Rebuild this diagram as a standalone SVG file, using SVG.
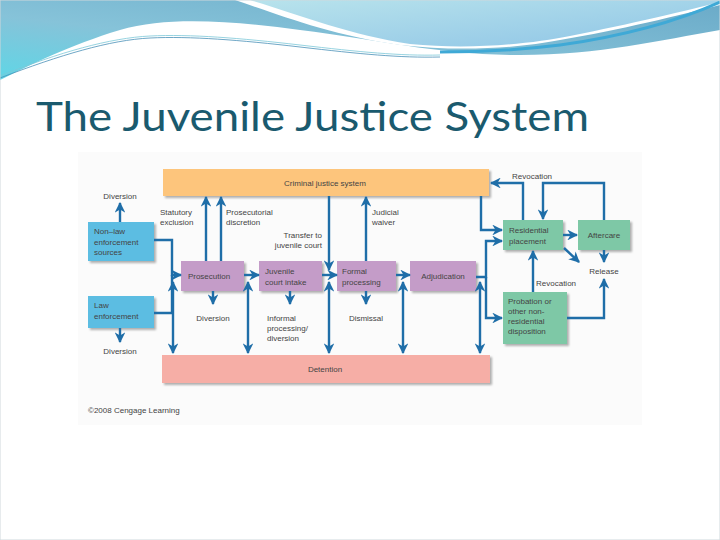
<svg xmlns="http://www.w3.org/2000/svg" width="720" height="540" viewBox="0 0 720 540">
<defs>
<linearGradient id="band" x1="0" y1="1" x2="1" y2="0">
<stop offset="0" stop-color="#5fd6e6"/>
<stop offset="0.4" stop-color="#86c3d9"/>
<stop offset="1" stop-color="#6aaac8"/>
</linearGradient>
<linearGradient id="band2" x1="0" y1="0" x2="1" y2="1">
<stop offset="0" stop-color="#b8e3ec"/>
<stop offset="1" stop-color="#8ec4e6"/>
</linearGradient>
<marker id="ah" viewBox="0 0 10 10" refX="9" refY="5" markerWidth="4.5" markerHeight="4.5" orient="auto-start-reverse">
<path d="M0,0 L10,5 L0,10 L3,5 z" fill="#1f6ea8"/>
</marker>
<filter id="sh" x="-10%" y="-10%" width="130%" height="140%">
<feDropShadow dx="2" dy="2" stdDeviation="1.2" flood-color="#000" flood-opacity="0.3"/>
</filter>
</defs>
<style>
.c{fill:none;stroke:#1f6ea8;stroke-width:2.4}
.a{marker-end:url(#ah)}
.b{marker-start:url(#ah);marker-end:url(#ah)}
.t{font-family:"Liberation Sans",Arial,sans-serif;font-size:8px;fill:#444}
.m{text-anchor:middle}
.blue{fill:#5cbde2;filter:url(#sh)}
.pur{fill:#c49cc8;filter:url(#sh)}
.grn{fill:#7ec8a6;filter:url(#sh)}
</style>
<rect width="720" height="540" fill="#ffffff"/>
<!-- header decoration -->
<path d="M0,0 H720 V30 C660,40 600,55 520,55 C440,55 380,40 300,30 C240,22 170,15 120,30 C70,45 30,65 0,80 Z" fill="url(#band)"/>
<path d="M235,0 C280,15 330,35 400,45 C460,52 520,48 560,40 C620,30 680,15 720,5 V0 Z" fill="#ffffff"/>
<path d="M250,0 C300,15 350,35 410,44 C470,50 530,44 570,36 C630,24 690,10 720,2 V0 Z" fill="url(#band2)"/>
<path d="M720,2 C680,20 630,35 560,45 C520,50 480,52 440,52" fill="none" stroke="#3fa9d6" stroke-width="3"/>
<path d="M0,78 C60,55 110,40 150,38 C190,36 240,40 300,47 C360,54 400,58 440,57" fill="none" stroke="#4a90b8" stroke-width="0.8"/>
<path d="M0,76 C60,52 110,38 150,36 C190,34 240,38 300,45 C360,52 400,56 440,55" fill="none" stroke="#7cc8d8" stroke-width="0.8"/>
<rect x="0" y="0" width="720" height="540" fill="none" stroke="#cfd8dc" stroke-width="1"/>
<text x="36" y="131" font-family="Lato,'Liberation Sans',sans-serif" font-size="40" fill="#1a5a6e" textLength="553" lengthAdjust="spacingAndGlyphs">The Juvenile Justice System</text>
<!-- diagram panel -->
<rect x="78" y="152" width="564" height="273" fill="#fbfbfb"/>
<g id="cjs"><rect x="163" y="169" width="326" height="27" fill="#fdc57b" filter="url(#sh)"/><text class="t m" x="325" y="186">Criminal justice system</text></g>
<g id="detention"><rect x="162" y="355" width="328" height="28" fill="#f6aea6" filter="url(#sh)"/><text class="t m" x="325" y="372">Detention</text></g>
<g id="nonlaw"><rect class="blue" x="88" y="222" width="66" height="39"/><text class="t" x="94" y="234">Non–law</text><text class="t" x="94" y="244.5">enforcement</text><text class="t" x="94" y="255">sources</text></g>
<g id="law"><rect class="blue" x="88" y="296" width="66" height="32"/><text class="t" x="94" y="308">Law</text><text class="t" x="94" y="318.5">enforcement</text></g>
<g id="prosecution"><rect class="pur" x="181" y="261" width="63" height="30"/><text class="t m" x="209" y="279">Prosecution</text></g>
<g id="intake"><rect class="pur" x="259" y="261" width="63" height="30"/><text class="t" x="265" y="274">Juvenile</text><text class="t" x="265" y="284.5">court intake</text></g>
<g id="formal"><rect class="pur" x="337" y="261" width="59" height="30"/><text class="t" x="342" y="274">Formal</text><text class="t" x="342" y="284.5">processing</text></g>
<g id="adjudication"><rect class="pur" x="410" y="261" width="66" height="30"/><text class="t m" x="443" y="279">Adjudication</text></g>
<g id="residential"><rect class="grn" x="503" y="220" width="60" height="30"/><text class="t" x="509" y="233">Residential</text><text class="t" x="509" y="243.5">placement</text></g>
<g id="aftercare"><rect class="grn" x="578" y="220" width="52" height="30"/><text class="t m" x="604" y="238">Aftercare</text></g>
<g id="probation"><rect class="grn" x="503" y="292" width="64" height="52"/><text class="t" x="508" y="304">Probation or</text><text class="t" x="508" y="314">other non-</text><text class="t" x="508" y="324">residential</text><text class="t" x="508" y="334">disposition</text></g>
<g id="labels">
<text class="t m" x="120" y="199">Diversion</text>
<text class="t m" x="120" y="354">Diversion</text>
<text class="t" x="160" y="215">Statutory</text><text class="t" x="160" y="225">exclusion</text>
<text class="t" x="226" y="215">Prosecutorial</text><text class="t" x="226" y="225">discretion</text>
<text class="t" x="322" y="238" text-anchor="end">Transfer to</text><text class="t" x="322" y="248" text-anchor="end">juvenile court</text>
<text class="t" x="372" y="215">Judicial</text><text class="t" x="372" y="225">waiver</text>
<text class="t m" x="213" y="321">Diversion</text>
<text class="t" x="267" y="321">Informal</text><text class="t" x="267" y="331">processing/</text><text class="t" x="267" y="341">diversion</text>
<text class="t m" x="366" y="321">Dismissal</text>
<text class="t" x="512" y="179">Revocation</text>
<text class="t" x="536" y="286">Revocation</text>
<text class="t m" x="604" y="274">Release</text>
<text class="t" x="88" y="413">©2008 Cengage Learning</text>
</g>
<g id="connectors">
<path class="c a" d="M120,222 V203"/>
<path class="c a" d="M120,328 V342"/>
<path class="c a" d="M154,240 H172 V275 H181"/>
<path class="c" d="M154,313 H172 V275"/>
<path class="c a" d="M206,261 V197"/>
<path class="c a" d="M221,261 V197"/>
<path class="c a" d="M329,196 V270"/>
<path class="c a" d="M366,261 V197"/>
<path class="c a" d="M244,275 H259"/>
<path class="c a" d="M322,275 H337"/>
<path class="c a" d="M396,275 H410"/>
<path class="c a" d="M213,291 V304"/>
<path class="c a" d="M290,291 V304"/>
<path class="c a" d="M366,291 V304"/>
<path class="c b" d="M173,282 V353"/>
<path class="c b" d="M248,282 V353"/>
<path class="c b" d="M329,282 V353"/>
<path class="c b" d="M403,282 V353"/>
<path class="c b" d="M480,282 V353"/>
<path class="c a" d="M481,196 V230 H502"/>
<path class="c a" d="M476,277 H486 V241 H502"/>
<path class="c a" d="M486,277 V318 H502"/>
<path class="c a" d="M523,220 V183 H491"/>
<path class="c a" d="M604,220 V183 H543 V219"/>
<path class="c a" d="M563,235 H577"/>
<path class="c a" d="M564,248 L579,262"/>
<path class="c a" d="M604,250 V262"/>
<path class="c a" d="M567,318 H604 V279"/>
<path class="c a" d="M533,292 V251"/>
</g>
</svg>
